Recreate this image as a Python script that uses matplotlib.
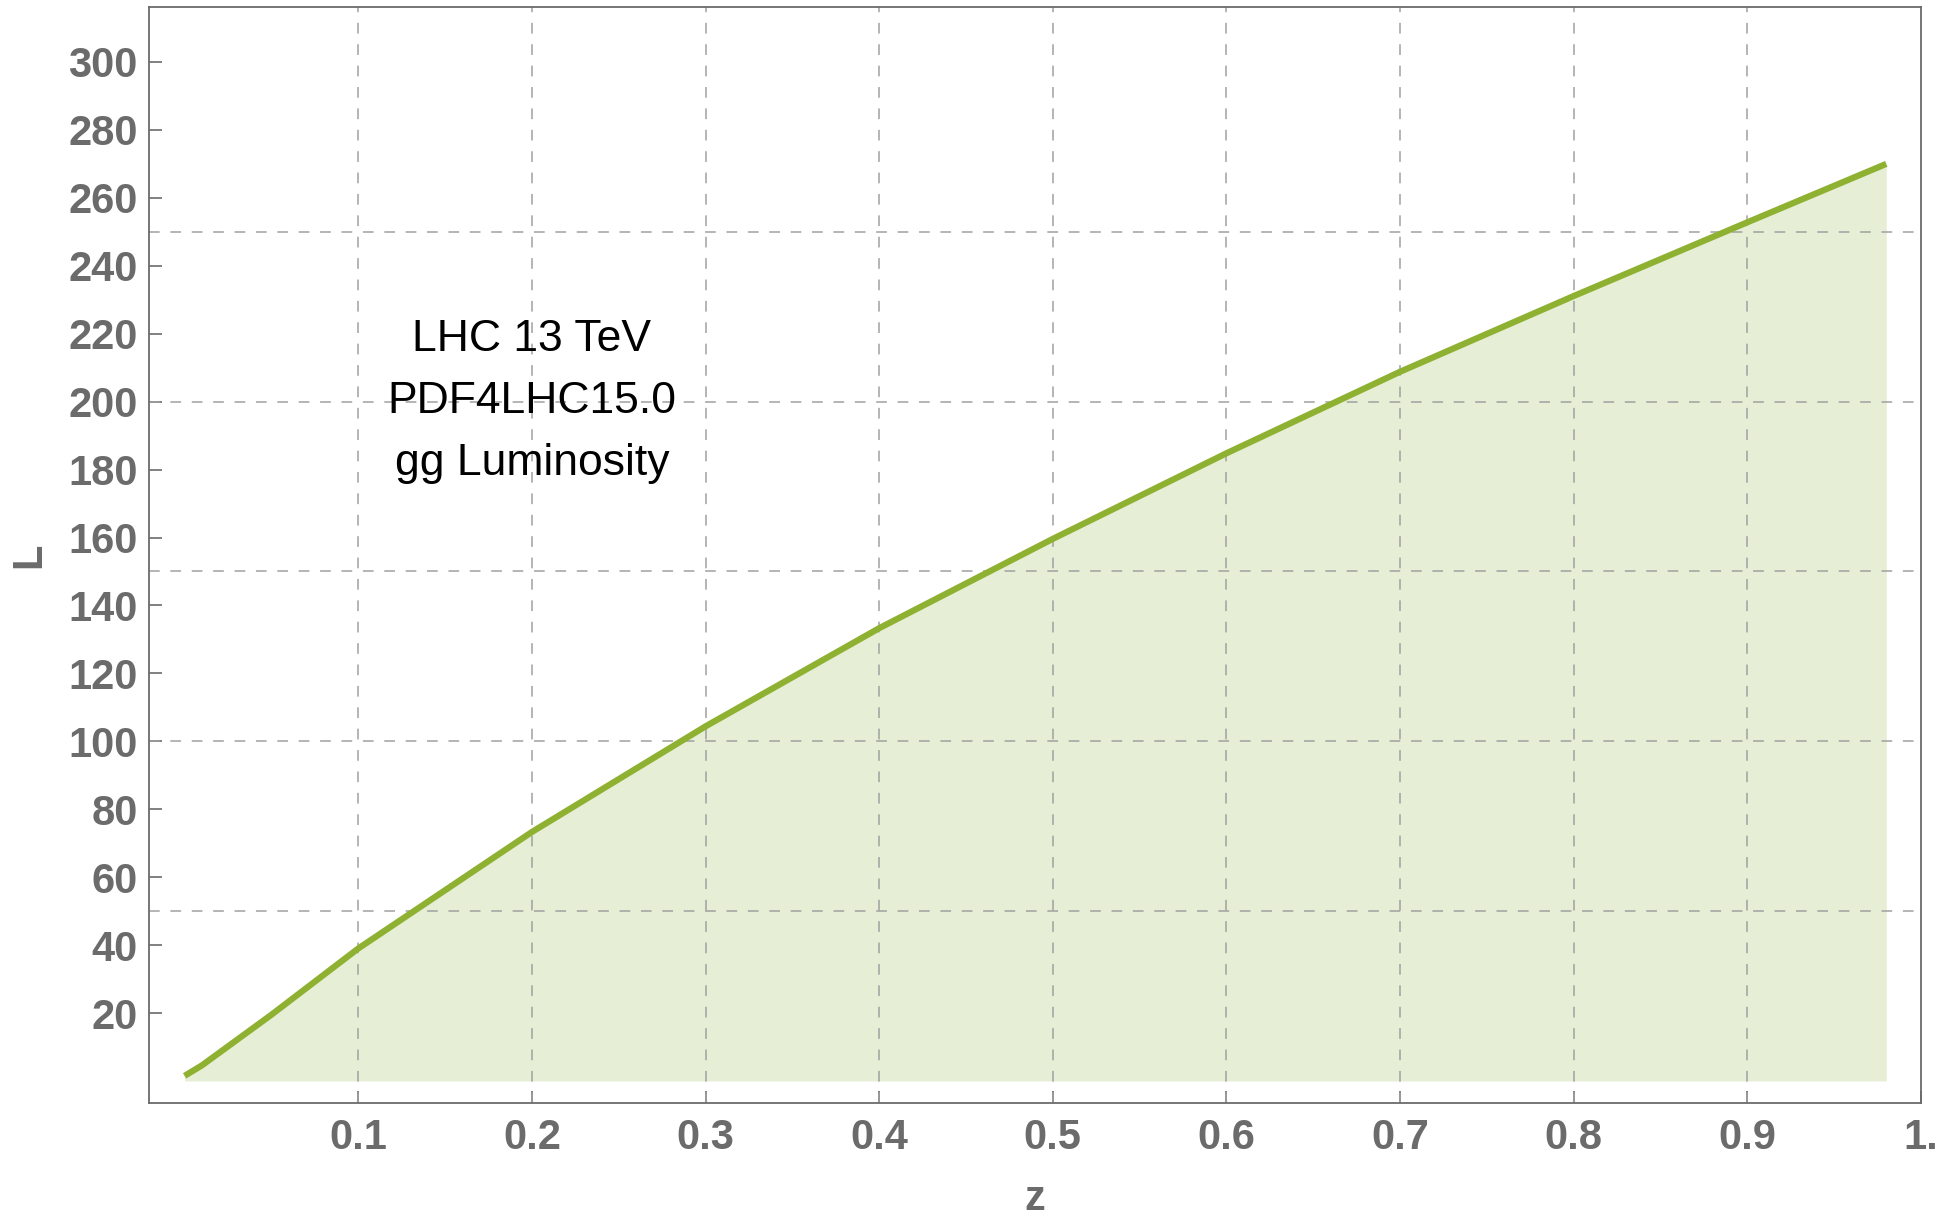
import numpy as np
import matplotlib
matplotlib.use("Agg")
import matplotlib.pyplot as plt

plt.rcParams['font.family'] = ['Liberation Sans', 'DejaVu Sans']

# gg luminosity
z = [0.0, 0.01, 0.05, 0.1, 0.2, 0.3, 0.4, 0.5, 0.6, 0.7, 0.8, 0.9, 0.98]
lum = [1.5, 4.6, 19.5, 39.0, 73.3, 104.4, 133.3, 159.6, 184.8, 208.8, 231.1, 252.8, 270.0]

xticks = [0.1, 0.2, 0.3, 0.4, 0.5, 0.6, 0.7, 0.8, 0.9, 1.0]
xticklabels = ["0.1", "0.2", "0.3", "0.4", "0.5", "0.6", "0.7", "0.8", "0.9", "1."]
yticks = list(range(20, 301, 20))
ygrid = [50, 100, 150, 200, 250]
info = "LHC 13 TeV\nPDF4LHC15.0\ngg Luminosity"

gray = "#6b6b6b"
line_col = "#8fb132"
fill_col = "#e7eed6"

fig = plt.figure(figsize=(19.58, 12.21), dpi=100)
ax = fig.add_axes([0.0761, 0.0966, 0.9811 - 0.0761, 0.9943 - 0.0966])

ax.fill_between(z, 0, lum, color=fill_col, lw=0, zorder=1)
ax.plot(z, lum, color=line_col, lw=4.5, solid_capstyle='butt', zorder=3)

# grid lines (horizontal ones are not at the tick positions)
for g in xticks[:-1]:
    ax.axvline(g, color="#a0a0a0", lw=1.1, ls=(0, (7, 7)), zorder=2)
for g in ygrid:
    ax.axhline(g, color="#a0a0a0", lw=1.1, ls=(0, (7, 7)), zorder=2)

ax.set_xlim(-0.0205, 1.0)
ax.set_ylim(-6.5, 316.2)
ax.set_xticks(xticks)
ax.set_xticklabels(xticklabels)
ax.set_yticks(yticks)

ax.tick_params(axis='both', direction='in', length=9, width=1.2, color=gray,
               labelcolor=gray, labelsize=30)
ax.tick_params(axis='x', pad=11)
ax.tick_params(axis='y', pad=8)
for lab in ax.get_xticklabels() + ax.get_yticklabels():
    lab.set_fontweight('bold')
for sp in ax.spines.values():
    sp.set_color(gray)
    sp.set_linewidth(1.3)

ax.set_xlabel("z", fontsize=30, fontweight='bold', color=gray, labelpad=15)
ax.set_ylabel("L", fontsize=30, fontweight='bold', color=gray, labelpad=14)

ax.text(0.2, 200, info, ha='center', va='center', fontsize=32,
        color='black', linespacing=1.65, zorder=4)

fig.savefig("out.png", dpi=100)
